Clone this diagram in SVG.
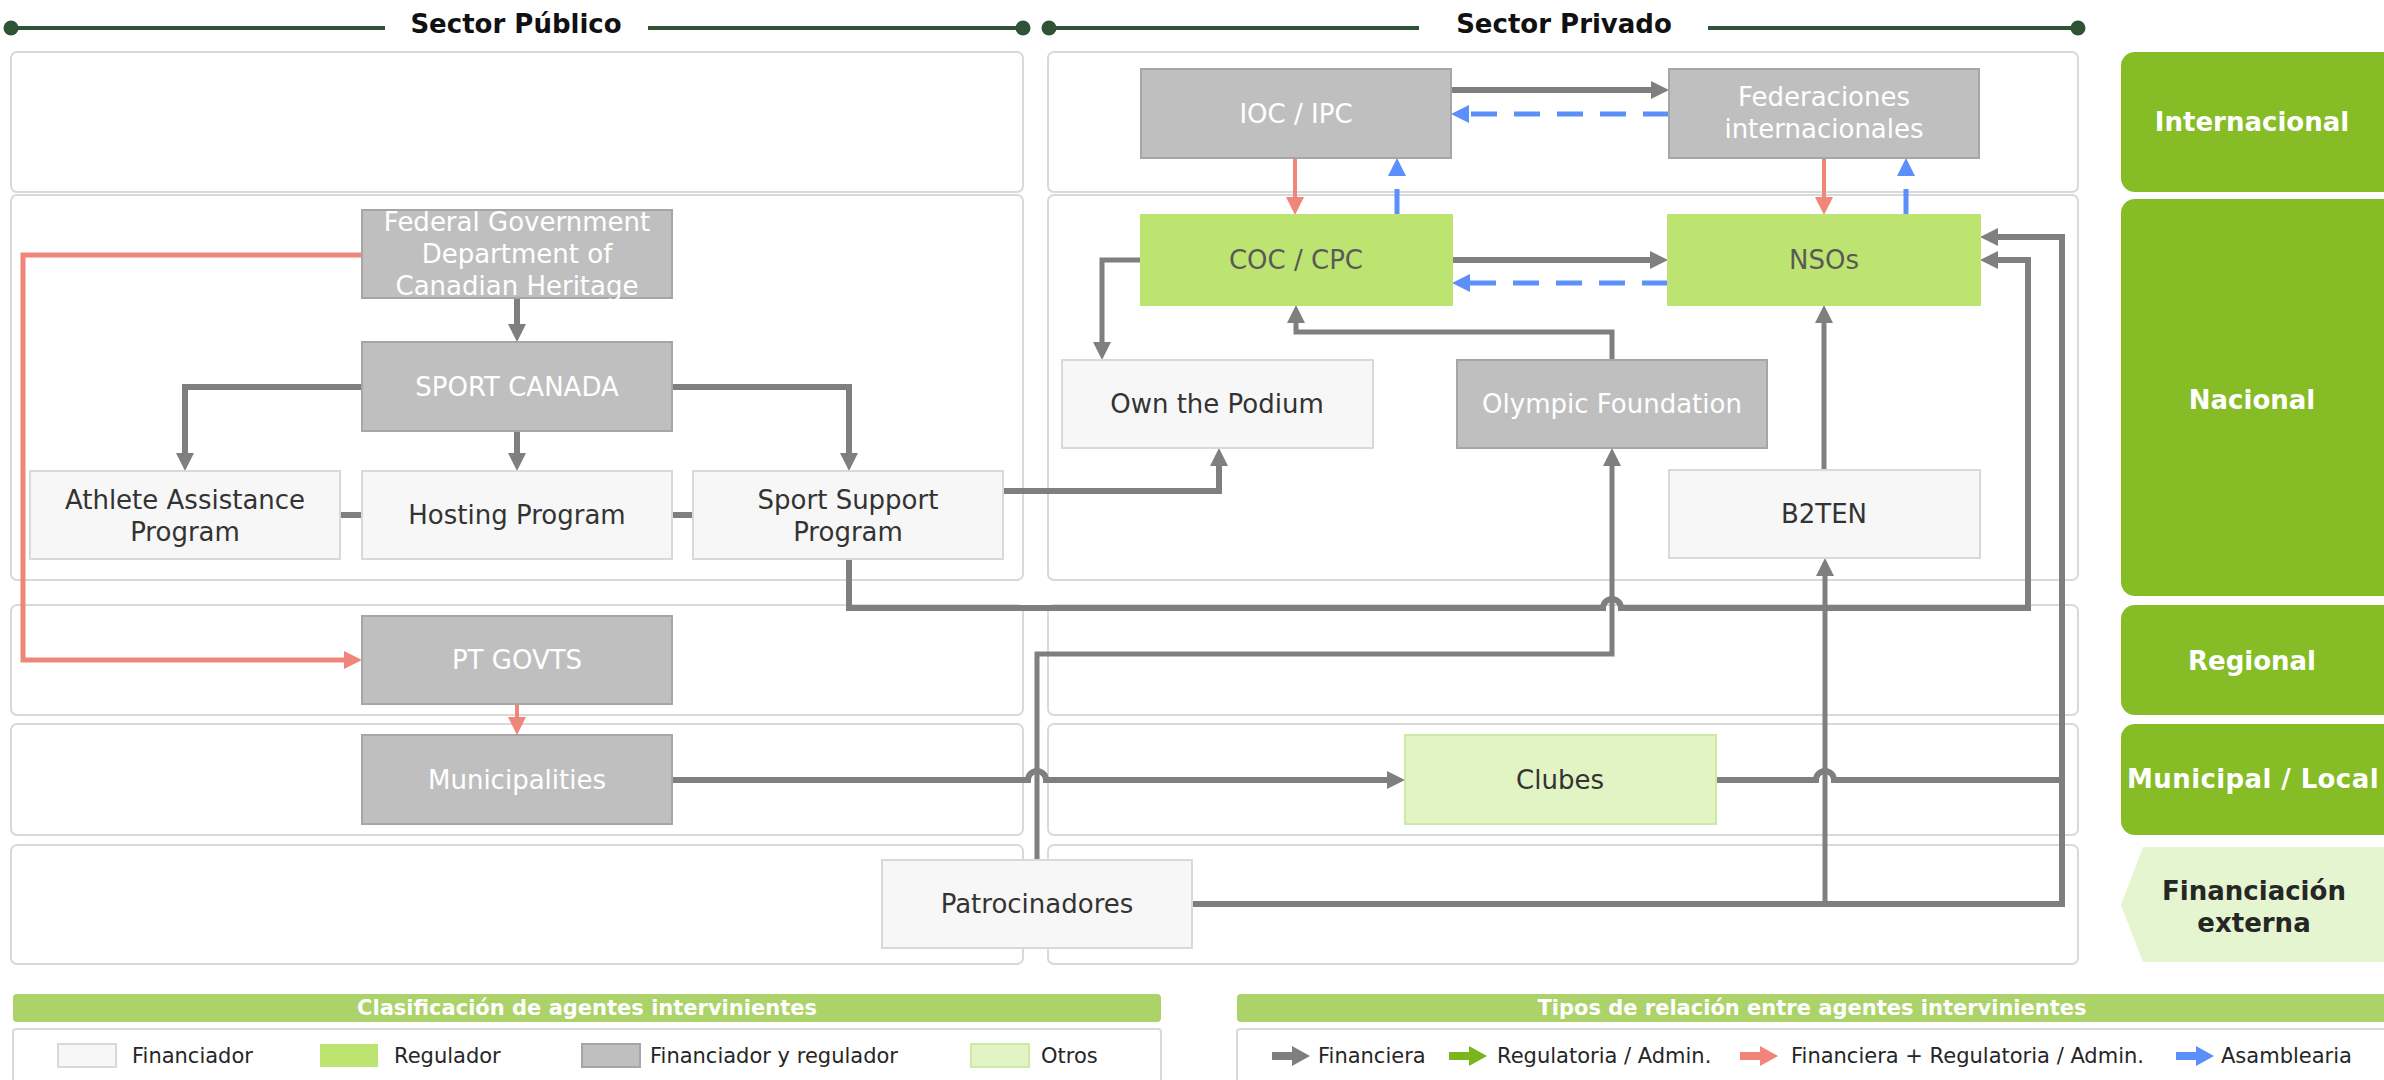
<svg xmlns="http://www.w3.org/2000/svg" width="2384" height="1080" viewBox="0 0 2384 1080">
<defs>
<style>
text{font-family:"DejaVu Sans",Verdana,sans-serif;}
.panel{fill:#ffffff;stroke:#d9d9d9;stroke-width:2;}
.hdr{fill:none;stroke:#2e5435;stroke-width:4;}
.dot{fill:#2e5435;}
.htxt{font-size:26px;font-weight:bold;fill:#111111;text-anchor:middle;}
.nG rect{fill:#bfbfbf;stroke:#a6a6a6;stroke-width:2;}
.nG text{fill:#ffffff;}
.nF rect{fill:#f7f7f7;stroke:#d9d9d9;stroke-width:2;}
.nF text{fill:#333333;}
.nR rect{fill:#bde471;stroke:#bde471;stroke-width:2;}
.nR text{fill:#595959;}
.nO rect{fill:#e2f3c4;stroke:#cdeaa3;stroke-width:2;}
.nO text{fill:#333333;}
.node text{font-size:26px;text-anchor:middle;}
.lvl{fill:#86bc25;}
.ltxt{font-size:26px;font-weight:bold;fill:#ffffff;text-anchor:middle;}
.g{fill:none;stroke:#7f7f7f;stroke-width:6;}
.g5{fill:none;stroke:#7f7f7f;stroke-width:5;}
.r{fill:none;stroke:#f0857a;stroke-width:4;}
.b{fill:none;stroke:#5b8ff9;stroke-width:5;stroke-dasharray:26 17;}
.lbar{fill:#acd26a;}
.lbtxt{font-size:21px;font-weight:bold;fill:#ffffff;text-anchor:middle;}
.leg{font-size:21px;fill:#262626;}
</style>
<marker id="ag" markerUnits="userSpaceOnUse" markerWidth="18" markerHeight="18" refX="8" refY="9" orient="auto" viewBox="0 0 18 18"><path d="M0,0 L18,9 L0,18 z" fill="#7f7f7f"/></marker>
<marker id="ar" markerUnits="userSpaceOnUse" markerWidth="18" markerHeight="18" refX="8" refY="9" orient="auto" viewBox="0 0 18 18"><path d="M0,0 L18,9 L0,18 z" fill="#f0857a"/></marker>
<marker id="ab" markerUnits="userSpaceOnUse" markerWidth="18" markerHeight="18" refX="8" refY="9" orient="auto" viewBox="0 0 18 18"><path d="M0,0 L18,9 L0,18 z" fill="#5b8ff9"/></marker>
</defs>
<rect width="2384" height="1080" fill="#ffffff"/>

<!-- headers -->
<g id="header-publico">
<line class="hdr" x1="11" y1="28" x2="385" y2="28"/>
<line class="hdr" x1="648" y1="28" x2="1023" y2="28"/>
<circle class="dot" cx="11" cy="28" r="7.5"/>
<circle class="dot" cx="1023" cy="28" r="7.5"/>
<text class="htxt" x="516" y="33">Sector Público</text>
</g>
<g id="header-privado">
<line class="hdr" x1="1049" y1="28" x2="1419" y2="28"/>
<line class="hdr" x1="1708" y1="28" x2="2078" y2="28"/>
<circle class="dot" cx="1049" cy="28" r="7.5"/>
<circle class="dot" cx="2078" cy="28" r="7.5"/>
<text class="htxt" x="1564" y="33">Sector Privado</text>
</g>

<!-- panels -->
<g id="panels">
<rect class="panel" x="11" y="52" width="1012" height="140" rx="6"/>
<rect class="panel" x="11" y="195" width="1012" height="385" rx="6"/>
<rect class="panel" x="11" y="605" width="1012" height="110" rx="6"/>
<rect class="panel" x="11" y="724" width="1012" height="111" rx="6"/>
<rect class="panel" x="11" y="845" width="1012" height="119" rx="6"/>
<rect class="panel" x="1048" y="52" width="1030" height="140" rx="6"/>
<rect class="panel" x="1048" y="195" width="1030" height="385" rx="6"/>
<rect class="panel" x="1048" y="605" width="1030" height="110" rx="6"/>
<rect class="panel" x="1048" y="724" width="1030" height="111" rx="6"/>
<rect class="panel" x="1048" y="845" width="1030" height="119" rx="6"/>
</g>

<!-- level labels -->
<g id="lvl-internacional"><rect class="lvl" x="2121" y="52" width="280" height="140" rx="14"/><text class="ltxt" x="2252" y="131">Internacional</text></g>
<g id="lvl-nacional"><rect class="lvl" x="2121" y="199" width="280" height="397" rx="14"/><text class="ltxt" x="2252" y="409">Nacional</text></g>
<g id="lvl-regional"><rect class="lvl" x="2121" y="605" width="280" height="110" rx="14"/><text class="ltxt" x="2252" y="670">Regional</text></g>
<g id="lvl-municipal"><rect class="lvl" x="2121" y="724" width="280" height="111" rx="14"/><text class="ltxt" x="2253" y="788" style="letter-spacing:0.4px">Municipal / Local</text></g>
<g id="lvl-externa"><polygon points="2143,847 2400,847 2400,962 2143,962 2121,905" fill="#e5f5d0"/><text class="ltxt" x="2254" y="900" style="fill:#262626">Financiación</text><text class="ltxt" x="2254" y="932" style="fill:#262626">externa</text></g>

<!-- connectors -->
<g id="connectors">
<path class="g" d="M517,298 V332" marker-end="url(#ag)"/>
<path class="g" d="M362,387 H185 V461" marker-end="url(#ag)"/>
<path class="g" d="M517,431 V461" marker-end="url(#ag)"/>
<path class="g" d="M672,387 H849 V461" marker-end="url(#ag)"/>
<path class="g" d="M340,515 H362"/>
<path class="g" d="M672,515 H693"/>
<path class="r" d="M362,255 H23 V660 H352" style="stroke-width:5" marker-end="url(#ar)"/>
<path class="r" d="M517,704 V725" marker-end="url(#ar)"/>
<path class="g" d="M1451,90 H1659" marker-end="url(#ag)"/>
<path class="b" d="M1669,114 H1461" marker-end="url(#ab)"/>
<path class="r" d="M1295,158 V205" marker-end="url(#ar)"/>
<path class="b" d="M1397,215 V168" marker-end="url(#ab)"/>
<path class="r" d="M1824,158 V205" marker-end="url(#ar)"/>
<path class="b" d="M1906,215 V168" marker-end="url(#ab)"/>
<path class="g" d="M1452,260 H1658" marker-end="url(#ag)"/>
<path class="b" d="M1668,283 H1462" marker-end="url(#ab)"/>
<path class="g5" d="M1141,260 H1102 V350" marker-end="url(#ag)"/>
<path class="g5" d="M1612,360 V332 H1296 V315" marker-end="url(#ag)"/>
<path class="g5" d="M1824,470 V315" marker-end="url(#ag)"/>
<path class="g" d="M1003,491 H1219 V458" marker-end="url(#ag)"/>
<path class="g" d="M849,559 V608 H1603 A9,9 0 0 1 1621,608 H2028 V260 H1990" marker-end="url(#ag)"/>
<path class="g5" d="M1037,860 V654 H1612 V458" marker-end="url(#ag)"/>
<path class="g" d="M672,780 H1028 A9,9 0 0 1 1046,780 H1395" marker-end="url(#ag)"/>
<path class="g" d="M1716,780 H1816 A9,9 0 0 1 1834,780 H2062"/>
<path class="g" d="M1192,904 H2062 V237 H1990" marker-end="url(#ag)"/>
<path class="g5" d="M1825,904 V568" marker-end="url(#ag)"/>
</g>

<!-- nodes -->
<g id="n-fedgov" class="node nG"><rect x="362" y="210" width="310" height="88"/><text x="517" y="231">Federal Government</text><text x="517" y="263">Department of</text><text x="517" y="295">Canadian Heritage</text></g>
<g id="n-sportcanada" class="node nG"><rect x="362" y="342" width="310" height="89"/><text x="517" y="396">SPORT CANADA</text></g>
<g id="n-athlete" class="node nF"><rect x="30" y="471" width="310" height="88"/><text x="185" y="509">Athlete Assistance</text><text x="185" y="541">Program</text></g>
<g id="n-hosting" class="node nF"><rect x="362" y="471" width="310" height="88"/><text x="517" y="524">Hosting Program</text></g>
<g id="n-sportsupport" class="node nF"><rect x="693" y="471" width="310" height="88"/><text x="848" y="509">Sport Support</text><text x="848" y="541">Program</text></g>
<g id="n-ptgovts" class="node nG"><rect x="362" y="616" width="310" height="88"/><text x="517" y="669">PT GOVTS</text></g>
<g id="n-municipalities" class="node nG"><rect x="362" y="735" width="310" height="89"/><text x="517" y="789">Municipalities</text></g>
<g id="n-patrocinadores" class="node nF"><rect x="882" y="860" width="310" height="88"/><text x="1037" y="913">Patrocinadores</text></g>
<g id="n-ioc" class="node nG"><rect x="1141" y="69" width="310" height="89"/><text x="1296" y="123">IOC / IPC</text></g>
<g id="n-federaciones" class="node nG"><rect x="1669" y="69" width="310" height="89"/><text x="1824" y="106">Federaciones</text><text x="1824" y="138">internacionales</text></g>
<g id="n-coc" class="node nR"><rect x="1141" y="215" width="311" height="90"/><text x="1296" y="269">COC / CPC</text></g>
<g id="n-nsos" class="node nR"><rect x="1668" y="215" width="312" height="90"/><text x="1824" y="269">NSOs</text></g>
<g id="n-otp" class="node nF"><rect x="1062" y="360" width="311" height="88"/><text x="1217" y="413">Own the Podium</text></g>
<g id="n-olympic" class="node nG"><rect x="1457" y="360" width="310" height="88"/><text x="1612" y="413">Olympic Foundation</text></g>
<g id="n-b2ten" class="node nF"><rect x="1669" y="470" width="311" height="88"/><text x="1824" y="523">B2TEN</text></g>
<g id="n-clubes" class="node nO"><rect x="1405" y="735" width="311" height="89"/><text x="1560" y="789">Clubes</text></g>

<!-- legend: agentes -->
<g id="legend-agentes">
<rect class="lbar" x="13" y="994" width="1148" height="28" rx="4"/>
<text class="lbtxt" x="587" y="1015">Clasificación de agentes intervinientes</text>
<rect x="13" y="1029" width="1148" height="70" fill="#ffffff" stroke="#d9d9d9" stroke-width="2" rx="3"/>
<rect x="58" y="1044" width="58" height="23" fill="#f7f7f7" stroke="#d9d9d9" stroke-width="2"/>
<text class="leg" x="132" y="1063">Financiador</text>
<rect x="320" y="1044" width="58" height="23" fill="#bde471"/>
<text class="leg" x="394" y="1063">Regulador</text>
<rect x="582" y="1044" width="58" height="23" fill="#bfbfbf" stroke="#a6a6a6" stroke-width="2"/>
<text class="leg" x="650" y="1063">Financiador y regulador</text>
<rect x="971" y="1044" width="58" height="23" fill="#e2f3c4" stroke="#cdeaa3" stroke-width="2"/>
<text class="leg" x="1041" y="1063">Otros</text>
</g>

<!-- legend: relaciones -->
<g id="legend-relaciones">
<rect class="lbar" x="1237" y="994" width="1160" height="28" rx="4"/>
<text class="lbtxt" x="1812" y="1015">Tipos de relación entre agentes intervinientes</text>
<rect x="1237" y="1029" width="1160" height="70" fill="#ffffff" stroke="#d9d9d9" stroke-width="2" rx="3"/>
<polygon points="1272,1052 1292,1052 1292,1046 1310,1056 1292,1066 1292,1060 1272,1060" fill="#7f7f7f"/>
<text class="leg" x="1318" y="1063">Financiera</text>
<polygon points="1449,1052 1469,1052 1469,1046 1487,1056 1469,1066 1469,1060 1449,1060" fill="#7ab51d"/>
<text class="leg" x="1497" y="1063">Regulatoria / Admin.</text>
<polygon points="1740,1052 1760,1052 1760,1046 1778,1056 1760,1066 1760,1060 1740,1060" fill="#f0857a"/>
<text class="leg" x="1791" y="1063">Financiera + Regulatoria / Admin.</text>
<polygon points="2176,1052 2196,1052 2196,1046 2214,1056 2196,1066 2196,1060 2176,1060" fill="#5b8ff9"/>
<text class="leg" x="2221" y="1063">Asamblearia</text>
</g>
</svg>
